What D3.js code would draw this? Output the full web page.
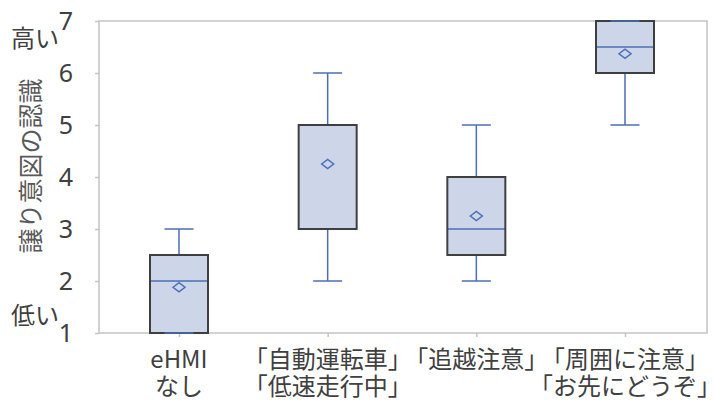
<!DOCTYPE html>
<html>
<head>
<meta charset="utf-8">
<script src="https://cdn.jsdelivr.net/npm/d3@7"></script>
<style>
  html, body { margin: 0; padding: 0; background: #fff; }
  svg text { font-family: "Noto Sans CJK JP", "Noto Sans", sans-serif; fill: #404040; }
</style>
</head>
<body>
<svg id="chart" width="715" height="401"></svg>
<script>
// Five-number summaries plus mean for each eHMI condition (7-point scale)
const categories = ["eHMIなし", "自動運転車・低速走行中", "追越注意", "周囲に注意・お先にどうぞ"];
const labelLines = [["eHMI", "なし"], ["「自動運転車」", "「低速走行中」"], ["「追越注意」"], ["「周囲に注意」", "「お先にどうぞ」"]];
const mins    = [1, 2, 2,   5];
const q1s     = [1, 3, 2.5, 6];
const medians = [2, 5, 3,   6.5];
const q3s     = [2.5, 5, 4, 7];
const maxs    = [3, 6, 5,   7];
const means   = [1.88, 4.25, 3.25, 6.37];
const yTicks  = [1, 2, 3, 4, 5, 6, 7];

const data = categories.map((c, i) => ({
  cat: c, lines: labelLines[i], min: mins[i], q1: q1s[i], median: medians[i],
  q3: q3s[i], max: maxs[i], mean: means[i]
}));

const svg = d3.select("#chart");
const plot = { left: 99, right: 707, top: 21, bottom: 333 };

const x = d3.scalePoint().domain(categories).range([179, 625]);
const y = d3.scaleLinear().domain([1, 7]).range([plot.bottom, plot.top]);

const boxW = 58, capW = 29;
const blue = "#4a6fb8", outline = "#3f3f3f", fill = "#cdd6e8", frame = "#c4c4c4";

// plot frame
svg.append("rect")
  .attr("x", plot.left).attr("y", plot.top)
  .attr("width", plot.right - plot.left).attr("height", plot.bottom - plot.top)
  .attr("fill", "none").attr("stroke", frame).attr("stroke-width", 1.5);

// y axis
const yAxis = svg.append("g").attr("transform", `translate(${plot.left},0)`)
  .call(d3.axisLeft(y).tickValues(yTicks).tickFormat(d3.format("d")).tickSize(4).tickPadding(22));
yAxis.select(".domain").remove();
yAxis.selectAll(".tick line").attr("stroke", frame).attr("stroke-width", 1.5);
yAxis.selectAll(".tick text").attr("font-size", 25).attr("fill", "#404040")
  .style("font-family", "'Noto Sans', sans-serif");

// x axis ticks
const xAxis = svg.append("g").attr("transform", `translate(0,${plot.bottom})`)
  .call(d3.axisBottom(x).tickSize(4).tickFormat(""));
xAxis.select(".domain").remove();
xAxis.selectAll(".tick line").attr("stroke", frame).attr("stroke-width", 1.5);

// category labels, one text per line, centred under each tick
const lineY = [368, 395];
data.forEach(d => {
  d.lines.forEach((t, j) => {
    svg.append("text").attr("x", x(d.cat)).attr("y", lineY[j])
      .attr("text-anchor", "middle").attr("font-size", 24).text(t);
  });
});

// axis title and scale end notes
svg.append("text").attr("transform", "translate(40,166) rotate(-90)")
  .attr("text-anchor", "middle").attr("font-size", 25)
  .style("fill", "#595959").text("譲り意図の認識");
svg.append("text").attr("x", 11).attr("y", 47).attr("font-size", 24).text("高い");
svg.append("text").attr("x", 11).attr("y", 324).attr("font-size", 24).text("低い");

// boxes
const g = svg.append("g").selectAll("g").data(data).join("g")
  .attr("transform", d => `translate(${x(d.cat)},0)`);

// whiskers
g.append("line").attr("x1", 0).attr("x2", 0)
  .attr("y1", d => y(d.q3)).attr("y2", d => y(d.max))
  .attr("stroke", blue).attr("stroke-width", 1.5);
g.append("line").attr("x1", 0).attr("x2", 0)
  .attr("y1", d => y(d.q1)).attr("y2", d => y(d.min))
  .attr("stroke", blue).attr("stroke-width", 1.5);

// box body and median
g.append("rect").attr("x", -boxW / 2).attr("width", boxW)
  .attr("y", d => y(d.q3)).attr("height", d => y(d.q1) - y(d.q3))
  .attr("fill", fill);
g.append("line").attr("x1", -boxW / 2).attr("x2", boxW / 2)
  .attr("y1", d => y(d.median)).attr("y2", d => y(d.median))
  .attr("stroke", blue).attr("stroke-width", 1.5);
g.append("rect").attr("x", -boxW / 2).attr("width", boxW)
  .attr("y", d => y(d.q3)).attr("height", d => y(d.q1) - y(d.q3))
  .attr("fill", "none").attr("stroke", outline).attr("stroke-width", 2);

// whisker caps
g.append("line").attr("x1", -capW / 2).attr("x2", capW / 2)
  .attr("y1", d => y(d.max)).attr("y2", d => y(d.max))
  .attr("stroke", blue).attr("stroke-width", 1.5);
g.append("line").attr("x1", -capW / 2).attr("x2", capW / 2)
  .attr("y1", d => y(d.min)).attr("y2", d => y(d.min))
  .attr("stroke", blue).attr("stroke-width", 1.5);

// mean markers
g.append("path")
  .attr("d", "M-6,0L0,-4.5L6,0L0,4.5Z")
  .attr("transform", d => `translate(0,${y(d.mean)})`)
  .attr("fill", "none").attr("stroke", blue).attr("stroke-width", 1.5);
</script>
</body>
</html>
